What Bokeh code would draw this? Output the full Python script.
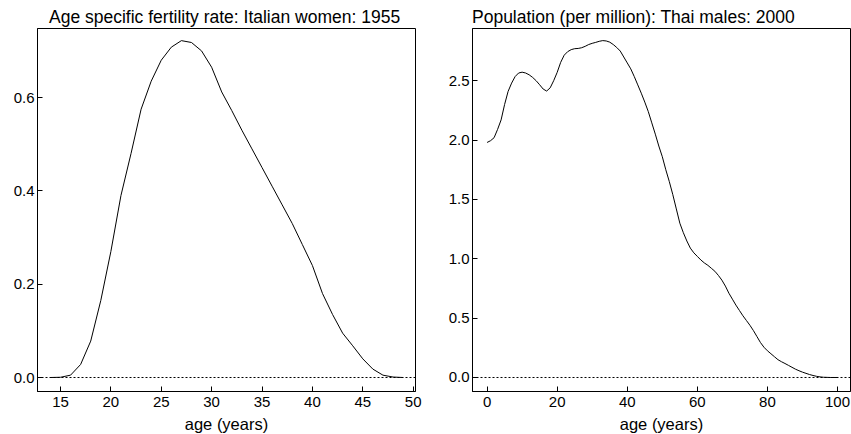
from bokeh.plotting import figure
from bokeh.layouts import row
from bokeh.models import Range1d, Span, FixedTicker, NumeralTickFormatter
from bokeh.embed import file_html
from bokeh.resources import INLINE

# Left panel: Age specific fertility rate, Italian women, 1955
ita_age = [14, 15, 16, 17, 18, 19, 20, 21, 22, 23, 24, 25, 26, 27, 28, 29, 30,
           31, 32, 33, 34, 35, 36, 37, 38, 39, 40, 41, 42, 43, 44, 45, 46, 47, 48, 49]
ita_asfr = [0.0, 0.0005, 0.005, 0.028, 0.078, 0.165, 0.27, 0.39, 0.48, 0.575, 0.635,
            0.68, 0.708, 0.722, 0.718, 0.70, 0.665, 0.612, 0.572, 0.53, 0.49, 0.45,
            0.41, 0.37, 0.33, 0.285, 0.24, 0.18, 0.135, 0.095, 0.068, 0.04, 0.018,
            0.005, 0.001, 0.0]

# Right panel: Population (per million), Thai males, 2000
thai_age = list(range(0, 101))
thai_pop = [1.98, 1.995, 2.02, 2.09, 2.17, 2.30, 2.41, 2.48, 2.535, 2.565,
            2.572, 2.565, 2.55, 2.528, 2.50, 2.466, 2.43, 2.413, 2.44, 2.50,
            2.57, 2.655, 2.715, 2.745, 2.762, 2.77, 2.772, 2.778, 2.79, 2.805,
            2.815, 2.823, 2.832, 2.838, 2.835, 2.825, 2.805, 2.78, 2.75, 2.70,
            2.65, 2.60, 2.535, 2.465, 2.395, 2.32, 2.24, 2.145, 2.05, 1.95,
            1.86, 1.75, 1.65, 1.54, 1.42, 1.30, 1.22, 1.15, 1.09, 1.05,
            1.02, 0.99, 0.965, 0.945, 0.92, 0.895, 0.86, 0.82, 0.77, 0.71,
            0.66, 0.61, 0.565, 0.52, 0.48, 0.44, 0.395, 0.345, 0.295, 0.255,
            0.225, 0.20, 0.175, 0.15, 0.133, 0.118, 0.102, 0.086, 0.07, 0.057,
            0.045, 0.035, 0.025, 0.017, 0.01, 0.005, 0.002, 0.001, 0.0, 0.0, 0.0]

left_title = "Age specific fertility rate: Italian women: 1955"
right_title = "Population (per million): Thai males: 2000"
x_label = "age (years)"
left_xticks = [15, 20, 25, 30, 35, 40, 45, 50]
left_yticks = [0.0, 0.2, 0.4, 0.6]
right_xticks = [0, 20, 40, 60, 80, 100]
right_yticks = [0.0, 0.5, 1.0, 1.5, 2.0, 2.5]

FONT = "Liberation Sans"
FW = 378
FH = 363


def make(title, xs, ys, xr, yr, xt, yt, bl, br, toff):
    p = figure(output_backend="svg", toolbar_location=None,
               frame_width=FW, frame_height=FH,
               min_border_left=bl, min_border_right=br,
               min_border_top=28, min_border_bottom=43,
               x_range=Range1d(*xr), y_range=Range1d(*yr), title=title)
    p.title.text_font = FONT
    p.title.text_font_size = "17.5px"
    p.title.text_font_style = "normal"
    p.title.text_color = "black"
    p.title.offset = toff
    p.title.standoff = 3
    p.background_fill_color = "white"
    p.border_fill_color = "white"
    p.outline_line_color = "black"
    p.outline_line_width = 1
    p.xgrid.visible = False
    p.ygrid.visible = False
    for ax in (p.xaxis[0], p.yaxis[0]):
        ax.axis_line_color = "black"
        ax.major_tick_line_color = "black"
        ax.minor_tick_line_color = None
        ax.major_tick_out = 0
        ax.major_tick_in = 5
        ax.major_label_text_font = FONT
        ax.major_label_text_font_size = "15px"
        ax.major_label_text_color = "black"
        ax.formatter = NumeralTickFormatter(format="0")
    p.xaxis[0].ticker = FixedTicker(ticks=xt)
    p.yaxis[0].ticker = FixedTicker(ticks=yt)
    p.yaxis[0].formatter = NumeralTickFormatter(format="0.0")
    p.xaxis[0].major_label_standoff = 5
    p.yaxis[0].major_label_standoff = 3
    p.xaxis[0].axis_label = x_label
    p.xaxis[0].axis_label_text_font = FONT
    p.xaxis[0].axis_label_text_font_size = "16.5px"
    p.xaxis[0].axis_label_text_font_style = "normal"
    p.xaxis[0].axis_label_text_color = "black"
    p.xaxis[0].axis_label_standoff = 5
    p.add_layout(Span(location=0, dimension="width", line_color="black",
                      line_width=1, line_dash="2 2"))
    p.line(xs, ys, line_color="black", line_width=1)
    return p


p1 = make(left_title, ita_age, ita_asfr, (12.72, 50.23), (-0.030, 0.748),
          left_xticks, left_yticks, 37, 30, 11.5)
p2 = make(right_title, thai_age, thai_pop, (-4.16, 103.7), (-0.118, 2.94),
          right_xticks, right_yticks, 26, 1, -0.5)

layout = row(p1, p2)
open("out.html", "w").write(file_html(layout, INLINE))
